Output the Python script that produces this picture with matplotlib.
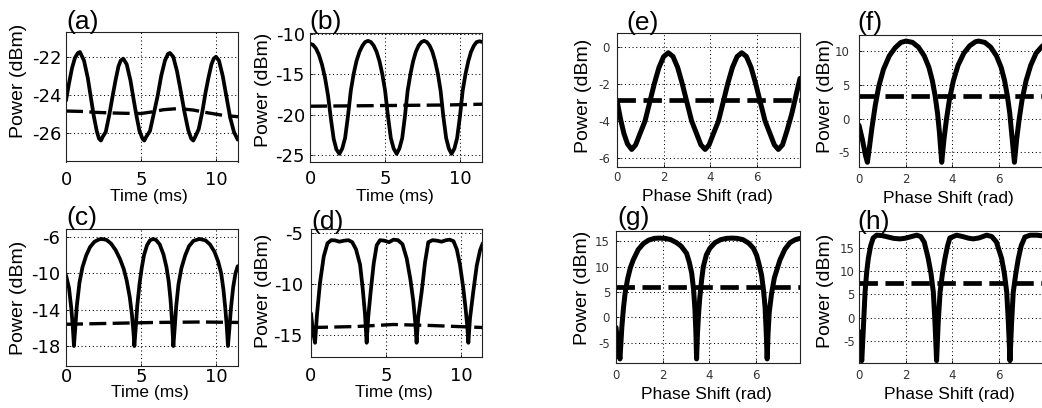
import matplotlib
matplotlib.use("Agg")
import matplotlib.pyplot as plt

plt.rcParams["font.family"] = ["Liberation Sans", "DejaVu Sans"]
plt.rcParams["axes.unicode_minus"] = False

W, H = 1042, 408

# ---------------------------------------------------------------
# (a)-(d): power vs time
# ---------------------------------------------------------------
a_t = [0, 0.2, 0.4, 0.6, 0.8, 0.93, 1.2, 1.45, 1.65, 1.85, 2.05, 2.2, 2.33,
       2.45, 2.65, 2.9, 3.1, 3.3, 3.5, 3.65, 3.82, 4.05, 4.3, 4.5, 4.7, 4.9,
       5.1, 5.22, 5.35, 5.6, 5.85, 6.1, 6.35, 6.6, 6.8, 6.93, 7.15, 7.4, 7.65,
       7.9, 8.15, 8.35, 8.49, 8.62, 8.85, 9.1, 9.3, 9.5, 9.7, 9.85, 10.0,
       10.2, 10.45, 10.7, 10.95, 11.2, 11.45]
a_p = [-24.3, -23.4, -22.6, -22.05, -21.8, -21.75, -22.2, -23.1, -24.1, -25.1,
       -25.9, -26.3, -26.4, -26.2, -25.95, -25.0, -24.1, -23.25, -22.5, -22.2,
       -22.1, -22.4, -23.25, -24.2, -25.1, -25.9, -26.3, -26.4, -26.2, -25.9,
       -25.0, -24.1, -23.0, -22.2, -21.85, -21.8, -22.0, -22.75, -23.8, -24.9,
       -25.85, -26.3, -26.4, -26.2, -25.8, -24.85, -23.9, -23.1, -22.4, -22.1,
       -22.0, -22.2, -23.0, -24.1, -25.2, -25.95, -26.35]
a_dash_t = [0, 1, 2, 3, 4, 5, 5.7, 6.5, 7.5, 8.5, 9.5, 10.5, 11.5]
a_dash_p = [-24.85, -24.87, -24.92, -24.95, -24.97, -24.98, -24.9, -24.78,
            -24.72, -24.8, -24.95, -25.08, -25.15]

b_t = [0, 0.2, 0.4, 0.6, 0.8, 1.0, 1.2, 1.4, 1.58, 1.76, 1.96,
       2.15, 2.34, 2.53, 2.72, 2.91, 3.1, 3.3, 3.5, 3.68, 3.87,
       4.06, 4.25, 4.44, 4.63, 4.82, 5.01, 5.2, 5.39, 5.58, 5.78,
       5.96, 6.15, 6.33, 6.51, 6.7, 6.88, 7.06, 7.24, 7.43, 7.61,
       7.79, 7.98, 8.16, 8.34, 8.53, 8.71, 8.89, 9.08, 9.26, 9.44,
       9.63, 9.81, 10.0, 10.18, 10.37, 10.56, 10.74, 10.93, 11.11, 11.3, 11.5]
b_p = [-11.2, -11.35, -11.8, -12.6, -13.8, -15.4, -17.6, -20.6, -23.0, -24.3, -24.85,
       -24.2, -22.9, -20.2, -17.05, -14.95, -13.35, -12.2, -11.45, -11.0, -10.85,
       -11.0, -11.45, -12.2, -13.35, -14.95, -17.05, -20.2, -22.9, -24.2, -24.85,
       -24.2, -22.9, -20.2, -17.05, -14.95, -13.35, -12.2, -11.45, -11.0, -10.85,
       -11.0, -11.45, -12.2, -13.35, -14.95, -17.05, -20.2, -22.9, -24.2, -24.85,
       -24.2, -22.9, -20.2, -17.05, -14.95, -13.35, -12.2, -11.45, -11.0, -10.9, -11.0]
b_dash_t = [0, 3, 6, 9, 11.5]
b_dash_p = [-18.95, -18.9, -18.85, -18.8, -18.7]

c_t = [0, 0.2, 0.35, 0.45, 0.53, 0.62, 0.72, 0.9, 1.1, 1.35, 1.6, 1.9, 2.2,
       2.4, 2.7, 3.0, 3.3, 3.6, 3.85, 4.05, 4.25, 4.4, 4.5, 4.56, 4.65, 4.75,
       4.9, 5.05, 5.2, 5.4, 5.6, 5.8, 6.0, 6.25, 6.5, 6.7, 6.85, 6.97, 7.06,
       7.16, 7.25, 7.35, 7.5, 7.7, 7.95, 8.2, 8.5, 8.9, 9.3, 9.6, 9.9, 10.15,
       10.35, 10.5, 10.62, 10.72, 10.8, 10.9, 11.0, 11.15, 11.3, 11.45]
c_p = [-10.2, -11.6, -13.8, -15.8, -18.0, -16.0, -13.6, -11.0, -9.3, -8.0,
       -7.1, -6.5, -6.25, -6.2, -6.3, -6.7, -7.4, -8.4, -9.5, -10.8, -12.6,
       -14.6, -16.5, -18.0, -16.0, -13.6, -11.2, -9.4, -8.0, -6.9, -6.35, -6.2,
       -6.3, -6.8, -7.9, -9.3, -10.9, -12.9, -15.0, -18.0, -16.0, -13.6, -11.2,
       -9.4, -8.0, -7.0, -6.4, -6.2, -6.35, -6.8, -7.6, -8.7, -10.0, -11.8,
       -13.8, -15.8, -18.0, -16.0, -13.8, -11.5, -10.0, -9.2]
c_dash_t = [0, 3, 6, 9, 11.5]
c_dash_p = [-15.6, -15.5, -15.4, -15.35, -15.4]

d_t = [0, 0.12, 0.27, 0.4, 0.6, 0.85, 1.1, 1.35, 1.6, 1.9, 2.2, 2.5, 2.75,
       3.0, 3.27, 3.45, 3.6, 3.71, 3.82, 3.98, 4.18, 4.38, 4.6, 4.9, 5.2, 5.5,
       5.8, 6.1, 6.38, 6.62, 6.82, 6.95, 7.04, 7.15, 7.38, 7.6, 7.82, 8.1, 8.4,
       8.7, 9.0, 9.25, 9.5, 9.72, 9.93, 10.15, 10.3, 10.42, 10.49, 10.6, 10.82,
       11.05, 11.27, 11.45]
d_p = [-12.9, -14.6, -15.8, -13.0, -9.9, -7.3, -6.0, -5.7, -5.72, -5.85,
       -5.75, -5.7, -5.9, -6.6, -8.1, -10.5, -13.0, -15.8, -13.2, -10.75, -8.0,
       -6.2, -5.7, -5.75, -5.9, -5.65, -5.7, -6.1, -7.5, -9.5, -11.7, -13.8,
       -15.8, -13.3, -10.75, -7.9, -5.9, -5.7, -5.75, -5.85, -5.7, -5.65, -5.8,
       -6.6, -8.1, -10.4, -12.35, -14.2, -15.8, -13.4, -10.75, -8.2, -6.7, -6.0]
d_dash_t = [0, 3, 5.5, 8, 11.5]
d_dash_p = [-14.3, -14.2, -14.0, -14.1, -14.3]

# ---------------------------------------------------------------
# (e)-(h): power vs phase shift
# ---------------------------------------------------------------
e_phi = [0, 0.15, 0.3, 0.45, 0.63, 0.8, 1.0, 1.2, 1.4, 1.6, 1.8, 2.0, 2.2,
         2.4, 2.6, 2.8, 3.0, 3.2, 3.4, 3.6, 3.78, 3.95, 4.15, 4.35, 4.55, 4.75,
         4.95, 5.15, 5.35, 5.55, 5.75, 5.95, 6.15, 6.35, 6.55, 6.75, 6.92, 7.1,
         7.3, 7.5, 7.7, 7.85]
e_p = [-2.9, -3.9, -4.7, -5.25, -5.55, -5.3, -4.65, -4.02, -3.01, -1.99,
       -1.11, -0.52, -0.31, -0.51, -1.1, -1.99, -3.0, -4.0, -4.65, -5.3, -5.55,
       -5.3, -4.65, -4.02, -3.01, -1.99, -1.11, -0.52, -0.31, -0.51, -1.1,
       -1.99, -3.0, -4.0, -4.65, -5.3, -5.55, -5.3, -4.5, -3.6, -2.5, -1.7]
e_dash_phi = [0, 2, 4, 6, 7.95]
e_dash_p = [-2.85, -2.85, -2.85, -2.85, -2.85]

f_phi = [0, 0.15, 0.28, 0.36, 0.45, 0.55, 0.7, 0.85, 1.05, 1.3, 1.55, 1.8,
         2.02, 2.3, 2.55, 2.8, 3.0, 3.15, 3.27, 3.37, 3.45, 3.55, 3.65, 3.75,
         3.88, 4.05, 4.25, 4.5, 4.75, 5.0, 5.13, 5.4, 5.65, 5.9, 6.1, 6.25,
         6.37, 6.47, 6.56, 6.67, 6.77, 6.87, 7.0, 7.17, 7.37, 7.6, 7.85, 7.95]
f_p = [-1.0, -3.2, -5.5, -6.5, -4.2, -1.5, 2.0, 4.8, 7.3, 9.3, 10.5, 11.3,
       11.5, 11.3, 10.6, 9.3, 7.6, 5.6, 3.3, 0.8, -2.0, -6.5, -3.0, -0.2, 2.8,
       5.6, 7.9, 9.7, 10.8, 11.4, 11.5, 11.3, 10.6, 9.3, 7.6, 5.6, 3.3, 0.8,
       -2.5, -6.5, -3.0, -0.2, 2.8, 5.6, 7.9, 9.7, 10.7, 11.0]
f_dash_phi = [0, 2, 4, 6, 7.95]
f_dash_p = [3.3, 3.3, 3.3, 3.3, 3.3]

g_phi = [0, 0.08, 0.17, 0.25, 0.32, 0.39, 0.5, 0.62, 0.74, 0.95, 1.17, 1.4,
         1.65, 1.85, 2.1, 2.35, 2.6, 2.8, 3.03, 3.15, 3.25, 3.33, 3.39, 3.43,
         3.46, 3.5, 3.55, 3.6, 3.68, 3.75, 3.88, 4.03, 4.25, 4.5, 4.75, 4.97,
         5.2, 5.45, 5.7, 5.9, 6.04, 6.15, 6.25, 6.33, 6.4, 6.45, 6.49, 6.53,
         6.58, 6.68, 6.8, 7.04, 7.25, 7.47, 7.7, 7.9]
g_p = [-2.0, -5.5, -8.2, -2.0, 1.8, 4.7, 7.6, 9.8, 11.3, 13.3, 14.5, 15.2,
       15.55, 15.6, 15.55, 15.3, 14.7, 14.0, 12.6, 10.8, 8.7, 5.5, 1.5, -3.0,
       -8.2, -3.0, 1.0, 4.0, 7.5, 10.0, 12.3, 13.6, 14.7, 15.3, 15.55, 15.6,
       15.55, 15.3, 14.6, 13.6, 12.2, 10.3, 8.3, 5.5, 2.0, -3.0, -8.2, -3.0,
       1.0, 4.7, 7.8, 11.3, 13.4, 14.7, 15.3, 15.55]
g_dash_phi = [0, 2, 4, 6, 7.95]
g_dash_p = [5.9, 5.9, 5.9, 5.9, 5.9]

h_phi = [0, 0.06, 0.12, 0.19, 0.26, 0.33, 0.4, 0.5, 0.61, 0.76, 1.0, 1.25,
         1.5, 1.76, 2.0, 2.25, 2.48, 2.65, 2.8, 2.97, 3.09, 3.19, 3.26, 3.33,
         3.4, 3.48, 3.58, 3.69, 3.8, 3.9, 4.19, 4.45, 4.7, 4.9, 5.15, 5.48, 5.7,
         5.9, 6.12, 6.24, 6.34, 6.41, 6.48, 6.55, 6.62, 6.73, 6.84, 6.96, 7.12,
         7.35, 7.63, 7.95]
h_p = [-3.0, -7.5, -9.3, -2.0, 5.5, 9.8, 12.8, 15.5, 17.2, 17.8, 17.7, 17.4,
       17.1, 17.0, 17.15, 17.5, 17.8, 17.5, 16.3, 12.8, 9.5, 5.5, -1.0, -9.3,
       -1.0, 5.5, 9.5, 12.8, 15.5, 17.2, 17.8, 17.5, 17.15, 17.0, 17.2, 17.8,
       17.5, 16.3, 12.8, 9.5, 5.5, -1.0, -9.3, -1.0, 5.5, 9.5, 12.8, 15.5, 17.4,
       17.8, 17.8, 17.6]
h_dash_phi = [0, 2, 4, 6, 7.95]
h_dash_p = [7.45, 7.45, 7.45, 7.45, 7.45]

time_ticks = [0, 5, 10]
phase_ticks = [0, 2, 4, 6]


def add_panel(box, x, y, xd, yd, xlim, ylim, yticks, xticks, xlabel,
              letter, letter_xy, xlabel_xy, ylabel_xy, pads, small):
    # box is (left, top, right, bottom) in figure pixels
    left, top, right, bottom = box
    ax = fig.add_axes([left / W, 1 - bottom / H,
                       (right - left) / W, (bottom - top) / H])
    ax.set_xlim(*xlim)
    ax.set_ylim(*ylim)
    ax.set_xticks(xticks)
    ax.set_yticks(yticks)
    ax.grid(True, color="black", linestyle=(0, (1, 2.6)), linewidth=0.75)
    ax.set_axisbelow(True)
    for s in ax.spines.values():
        s.set_linewidth(0.8)
        s.set_color("#222222")

    if small:
        lw, dlw, dashes = 3.6, 3.4, (3.9, 1.6)
        tick_kw = dict(labelsize=8.5, labelcolor="#333333")
    else:
        lw, dlw, dashes = 2.7, 2.4, (5.1, 1.9)
        tick_kw = dict(labelsize=13, labelcolor="black")
    ax.tick_params(direction="in", length=2, width=0.6, **tick_kw)
    ax.tick_params(axis="x", pad=pads[0])
    ax.tick_params(axis="y", pad=pads[1])
    for lab in ax.get_xticklabels() + ax.get_yticklabels():
        lab.set_family("DejaVu Sans")

    ax.plot(x, y, color="black", linewidth=lw,
            solid_joinstyle="round", solid_capstyle="round")
    dl, = ax.plot(xd, yd, color="black", linewidth=dlw)
    dl.set_dashes(dashes)

    fig.text(letter_xy[0] / W, 1 - letter_xy[1] / H, letter,
             fontsize=19, ha="left", va="bottom")
    fig.text(xlabel_xy[0] / W, 1 - xlabel_xy[1] / H, xlabel,
             fontsize=12.5, ha="center", va="center")
    fig.text(ylabel_xy[0] / W, 1 - ylabel_xy[1] / H, "Power (dBm)",
             fontsize=14, ha="center", va="center", rotation=90)
    return ax


fig = plt.figure(figsize=(W / 100, H / 100), dpi=100)

add_panel((66, 32, 238, 161.5), a_t, a_p, a_dash_t, a_dash_p,
          (0, 11.47), (-27.5, -20.7), [-26, -24, -22], time_ticks,
          "Time (ms)", "(a)", (66, 34), (148.5, 196.5), (19, 81), (7, 3), False)
add_panel((310, 33, 482, 162), b_t, b_p, b_dash_t, b_dash_p,
          (0, 11.47), (-25.86, -9.88), [-25, -20, -15, -10], time_ticks,
          "Time (ms)", "(b)", (309, 34), (395, 196.5), (264, 90), (6, 3.6), False)
add_panel((66, 229, 238, 366), c_t, c_p, c_dash_t, c_dash_p,
          (0, 11.47), (-20.2, -5.1), [-18, -14, -10, -6], time_ticks,
          "Time (ms)", "(c)", (66, 230), (150, 392.5), (19, 298), (1.6, 4.3), False)
add_panel((311, 229, 482, 357), d_t, d_p, d_dash_t, d_dash_p,
          (0, 11.4), (-17.2, -4.6), [-15, -10, -5], time_ticks,
          "Time (ms)", "(d)", (311, 234), (394, 392.5), (263, 291), (7, 5.8), False)

add_panel((617, 33, 800, 167), e_phi, e_p, e_dash_phi, e_dash_p,
          (0, 7.85), (-6.5, 0.76), [-6, -4, -2, 0], phase_ticks,
          "Phase Shift (rad)", "(e)", (626, 35), (707.5, 196.5), (583.5, 96), (3, 5), True)
add_panel((859, 35, 1044, 167), f_phi, f_p, f_dash_phi, f_dash_p,
          (0, 7.94), (-7.2, 12.4), [-5, 0, 5, 10], phase_ticks,
          "Phase Shift (rad)", "(f)", (857, 35), (948, 198.5), (825, 96), (4.3, 6.5), True)
add_panel((616, 231, 800, 363), g_phi, g_p, g_dash_phi, g_dash_p,
          (0, 7.9), (-9.0, 17.0), [-5, 0, 5, 10, 15], phase_ticks,
          "Phase Shift (rad)", "(g)", (617, 230), (706, 394), (582.5, 288), (4.5, 4.3), True)
add_panel((859, 231, 1044, 363), h_phi, h_p, h_dash_phi, h_dash_p,
          (0, 7.94), (-9.8, 18.7), [-5, 0, 5, 10, 15], phase_ticks,
          "Phase Shift (rad)", "(h)", (857, 234), (949, 394), (825, 291), (4, 3), True)

fig.savefig("out.png", dpi=100)
